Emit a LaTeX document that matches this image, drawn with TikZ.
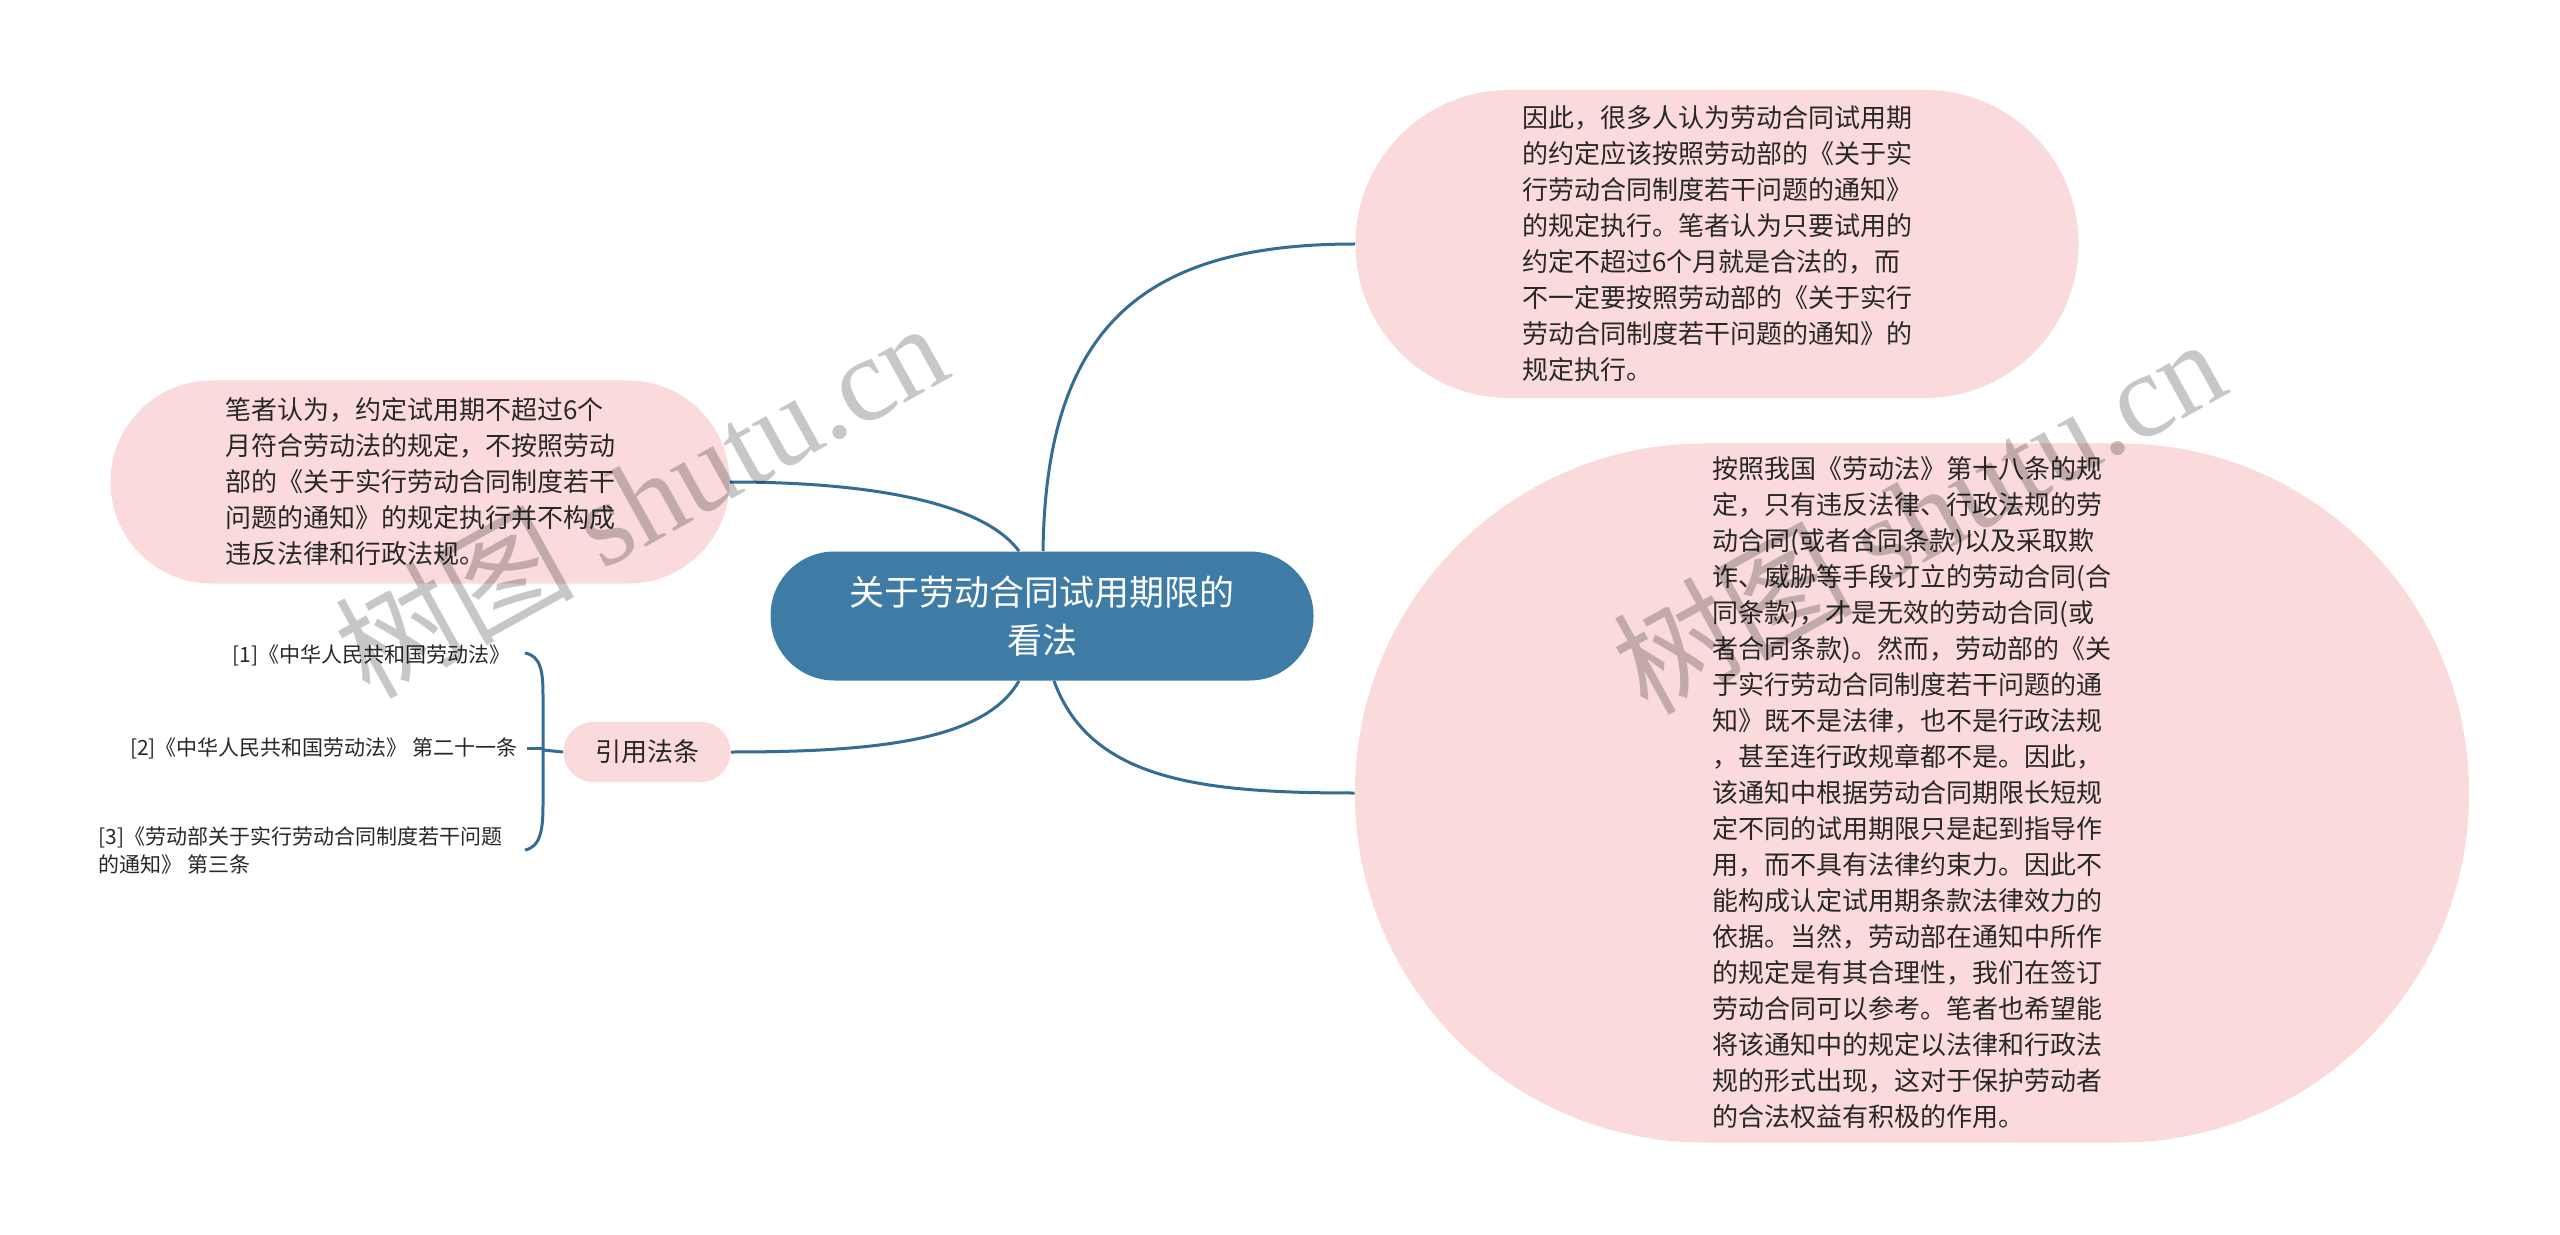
\documentclass[tikz,border=0pt]{standalone}
\usepackage{fontspec}
\setmainfont{Noto Sans CJK SC}
\newfontfamily\wmfont{Liberation Serif}
\definecolor{pinkc}{RGB}{250,218,218}
\definecolor{bluec}{RGB}{62,124,166}
\definecolor{linec}{RGB}{52,108,148}
\definecolor{txtc}{RGB}{40,40,40}
\tikzset{
  pinkbox/.style={fill=pinkc, inner sep=0pt, text=txtc, align=left,
    font=\fontsize{13pt}{18pt}\selectfont},
  rootbox/.style={fill=bluec, inner sep=0pt, text=white, align=center,
    font=\fontsize{17.5pt}{24pt}\selectfont},
  cite/.style={inner sep=0pt, text=txtc, align=left,
    font=\fontsize{10.5pt}{14pt}\selectfont},
  conn/.style={draw=linec, line width=1.5pt},
  wm/.style={text=black, opacity=0.22, rotate=29, font=\fontsize{60pt}{60pt}\selectfont}
}
\begin{document}
\begin{tikzpicture}[x=0.5pt,y=-0.5pt]
\useasboundingbox (0,0) rectangle (2560,1235);
\fill[white] (0,0) rectangle (2560,1235);

% nodes
\node[rootbox, minimum width=271.5pt, minimum height=64.5pt, rounded corners=32pt] (root) at (1042,616)
  {关于劳动合同试用期限的\\看法};
\node[pinkbox, minimum width=361.5pt, minimum height=154pt, rounded corners=76.9pt] (tr) at (1717,244)
  {因此，很多人认为劳动合同试用期\\
的约定应该按照劳动部的《关于实\\
行劳动合同制度若干问题的通知》\\
的规定执行。笔者认为只要试用的\\
约定不超过6个月就是合法的，而\\
不一定要按照劳动部的《关于实行\\
劳动合同制度若干问题的通知》的\\
规定执行。};
\node[pinkbox, minimum width=557pt, minimum height=349.5pt, rounded corners=174.6pt] (br) at (1912,793)
  {按照我国《劳动法》第十八条的规\\
定，只有违反法律、行政法规的劳\\
动合同(或者合同条款)以及采取欺\\
诈、威胁等手段订立的劳动合同(合\\
同条款)，才是无效的劳动合同(或\\
者合同条款)。然而，劳动部的《关\\
于实行劳动合同制度若干问题的通\\
知》既不是法律，也不是行政法规\\
，甚至连行政规章都不是。因此，\\
该通知中根据劳动合同期限长短规\\
定不同的试用期限只是起到指导作\\
用，而不具有法律约束力。因此不\\
能构成认定试用期条款法律效力的\\
依据。当然，劳动部在通知中所作\\
的规定是有其合理性，我们在签订\\
劳动合同可以参考。笔者也希望能\\
将该通知中的规定以法律和行政法\\
规的形式出现，这对于保护劳动者\\
的合法权益有积极的作用。};
\node[pinkbox, minimum width=309.5pt, minimum height=101.5pt, rounded corners=50.6pt] (lf) at (420,482)
  {笔者认为，约定试用期不超过6个\\
月符合劳动法的规定，不按照劳动\\
部的《关于实行劳动合同制度若干\\
问题的通知》的规定执行并不构成\\
违反法律和行政法规。};
\node[pinkbox, align=center, minimum width=83.5pt, minimum height=30pt, rounded corners=14.9pt] (yy) at (647,752)
  {引用法条};

\node[cite, anchor=east] (c1) at (511,655) {[1]《中华人民共和国劳动法》};
\node[cite, anchor=east] (c2) at (518,748) {[2]《中华人民共和国劳动法》 第二十一条};
\node[cite, anchor=west] (c3) at (98,851) {[3]《劳动部关于实行劳动合同制度若干问题\\的通知》 第三条};

% connectors
\draw[conn] ([xshift=0.5pt]root.north) .. controls (1046,320) and (1150,244) .. (tr.west);
\draw[conn] ([xshift=-11.5pt]root.north) .. controls (985,505) and (880,482) .. (lf.east);
\draw[conn] ([xshift=6pt]root.south) .. controls (1090,780) and (1200,793) .. (br.west);
\draw[conn] ([xshift=-11.5pt]root.south) .. controls (985,740) and (880,752) .. (yy.east);

% bracket
\coordinate (b1) at (525,653);
\coordinate (b2) at (527,748);
\coordinate (b3) at (525,850);
\coordinate (bs) at (543,750);
\draw[conn] (b1) .. controls (541,656) and (543,672) .. (543,695) -- (543,805)
  .. controls (543,828) and (541,847) .. (b3);
\draw[conn] (b2) -- (543,748);
\draw[conn] (bs) -- (yy.west);

% watermarks
\node[wm] (wm1) at (640,498) {树图 {\wmfont shutu.cn}};
\node[wm] (wm2) at (1918,514) {树图 {\wmfont shutu.cn}};
\end{tikzpicture}
\end{document}
